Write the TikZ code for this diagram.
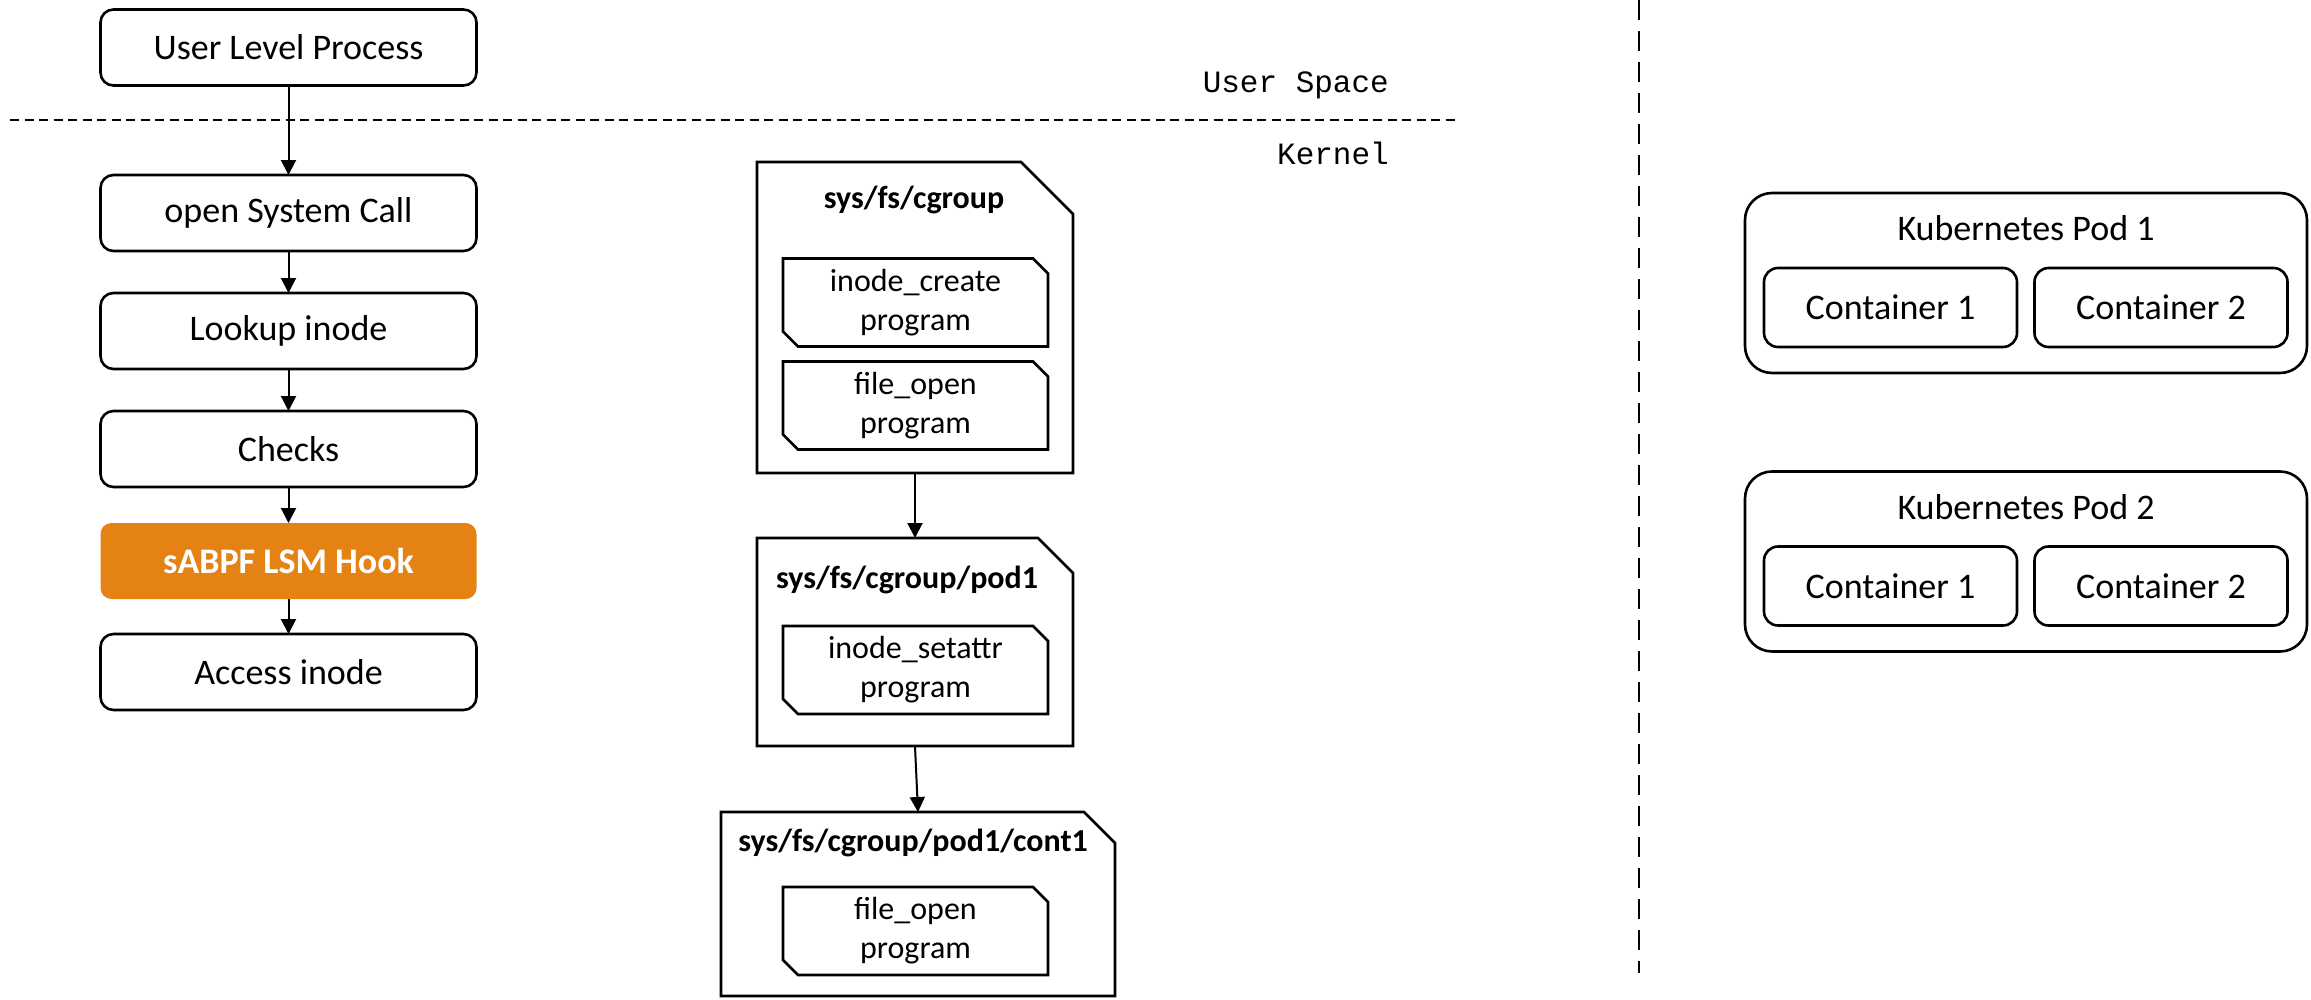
\documentclass[tikz,border=0pt]{standalone}
\usepackage{fontspec}
\setmainfont{Carlito}
\newfontfamily\codefont{Liberation Mono}
\usetikzlibrary{arrows.meta,calc}

\definecolor{hookorange}{RGB}{228,131,20}

% outline of a cgroup directory: rectangle with a cut top-right corner
\newcommand\cgoutline[2]{%
  \draw[outline] (#1.north west) -- ($(#1.north east)+(-#2,0)$) -- ($(#1.north east)+(0,#2)$)
    -- (#1.south east) -- (#1.south west) -- cycle;}
% outline of an attached program: top-right and bottom-left corners cut
\newcommand\progoutline[2]{%
  \draw[outline] (#1.north west) -- ($(#1.north east)+(-#2,0)$) -- ($(#1.north east)+(0,#2)$)
    -- (#1.south east) -- ($(#1.south west)+(#2,0)$) -- ($(#1.south west)+(0,-#2)$) -- cycle;}

\begin{document}
\begin{tikzpicture}[x=1pt,y=-1pt,
  outline/.style={line width=2.6pt, line join=miter},
  procbox/.style={draw, line width=2.6pt, rounded corners=13pt, minimum width=376pt,
    minimum height=76pt, inner sep=0pt, outer sep=0pt, font=\fontsize{36}{43}\selectfont},
  hookbox/.style={fill=hookorange, rounded corners=11pt, minimum width=376pt,
    minimum height=76pt, inner sep=0pt, outer sep=0pt, text=white,
    font=\fontsize{36}{43}\selectfont\bfseries},
  flow/.style={-{Triangle[width=15pt,length=15pt]}, line width=2pt},
  area/.style={draw=none, inner sep=0pt, outer sep=0pt},
  prog/.style={area, minimum width=265pt, minimum height=88pt, align=center,
    font=\fontsize{32}{39}\selectfont},
  cgtitle/.style={inner sep=0pt, font=\fontsize{32}{39}\selectfont\bfseries},
  podbox/.style={draw, line width=2.6pt, rounded corners=27pt, minimum width=562pt,
    minimum height=180pt, inner sep=0pt, outer sep=0pt},
  ctrbox/.style={draw, line width=2.6pt, rounded corners=14pt, minimum width=253pt,
    minimum height=79pt, inner sep=0pt, outer sep=0pt, font=\fontsize{36}{43}\selectfont},
  podtitle/.style={inner sep=0pt, font=\fontsize{36}{43}\selectfont},
  spacelabel/.style={anchor=east, inner sep=0pt, font=\codefont\fontsize{31}{37}\selectfont}
]
\useasboundingbox (0,0) rectangle (2311,999);

% ---------- system call path ----------
\node[procbox] (ulp) at (288.5,47.5) {User Level Process};
\node[procbox] (osc) at (288.5,213) {open System Call};
\node[procbox] (look) at (288.5,331) {Lookup inode};
\node[procbox] (chk) at (288.5,449) {Checks};
\node[hookbox] (hook) at (288.5,561) {sABPF LSM Hook};
\node[procbox] (acc) at (288.5,672) {Access inode};

\draw[flow] (ulp) -- (osc);
\draw[flow] (osc) -- (look);
\draw[flow] (look) -- (chk);
\draw[flow] (chk) -- (hook);
\draw[flow] (hook) -- (acc);

% ---------- user / kernel boundary ----------
\coordinate (bl) at (10,120);
\coordinate (br) at (1455,120);
\draw[line width=2pt, dash pattern=on 9pt off 5.5pt] (bl) -- (br);
\node[spacelabel] (us) at (1389,85) {User Space};
\node[spacelabel] (kn) at (1389,153) {Kernel};

% ---------- cgroup hierarchy ----------
\node[area, minimum width=316pt, minimum height=311pt] (cg) at (915,317.5) {};
\cgoutline{cg}{52}
\node[cgtitle] (cgt) at (914,200) {sys/fs/cgroup};
\node[prog] (ic) at (915.5,302.5) {inode\_create\\program};
\progoutline{ic}{15}
\node[prog] (fo) at (915.5,405.5) {file\_open\\program};
\progoutline{fo}{15}

\node[area, minimum width=316pt, minimum height=208pt] (pod) at (915,642) {};
\cgoutline{pod}{35}
\node[cgtitle] (podt) at (907,580) {sys/fs/cgroup/pod1};
\node[prog] (isa) at (915.5,670) {inode\_setattr\\program};
\progoutline{isa}{15}

\node[area, minimum width=394pt, minimum height=184pt] (cont) at (918,904) {};
\cgoutline{cont}{31}
\node[cgtitle] (contt) at (913,843) {sys/fs/cgroup/pod1/cont1};
\node[prog] (fo2) at (915.5,931) {file\_open\\program};
\progoutline{fo2}{15}

\draw[flow] (cg.south) -- (pod.north);
\draw[flow] (pod.south) -- (cont.north);

% ---------- separator ----------
\coordinate (vt) at (1639,0);
\coordinate (vb) at (1639,973);
\draw[line width=2.5pt, dash pattern=on 20pt off 11pt] (vt) -- (vb);

% ---------- Kubernetes pods ----------
\node[podbox] (p1) at (2026,283) {};
\node[podtitle] (p1t) at (2026,228) {Kubernetes Pod 1};
\node[ctrbox] (c11) at (1890.5,307.5) {Container 1};
\node[ctrbox] (c12) at (2161,307.5) {Container 2};

\node[podbox] (p2) at (2026,561.5) {};
\node[podtitle] (p2t) at (2026,507) {Kubernetes Pod 2};
\node[ctrbox] (c21) at (1890.5,586) {Container 1};
\node[ctrbox] (c22) at (2161,586) {Container 2};
\end{tikzpicture}
\end{document}
